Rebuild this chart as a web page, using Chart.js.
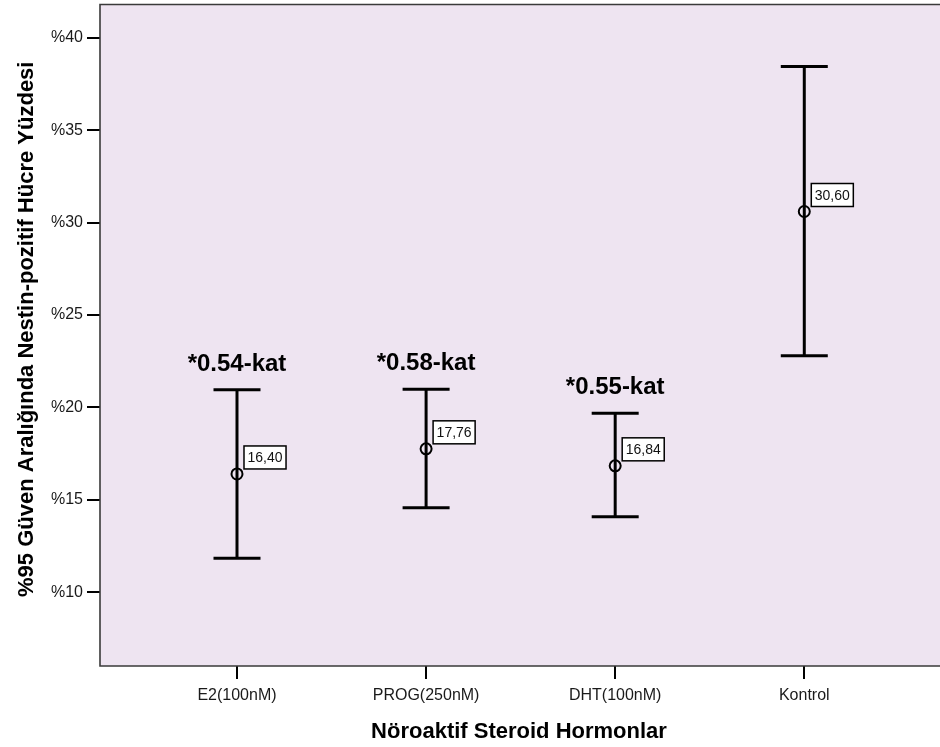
<!DOCTYPE html>
<html>
<head>
<meta charset="utf-8">
<script src="https://cdn.jsdelivr.net/npm/chart.js@4"></script>
<style>
  html, body { margin: 0; padding: 0; background: #fff; }
  #wrap { width: 940px; height: 747px; position: relative; }
</style>
</head>
<body>
<div id="wrap"><canvas id="c" width="940" height="747"></canvas></div>
<script>
// ---- data ----
const categories = ['E2(100nM)', 'PROG(250nM)', 'DHT(100nM)', 'Kontrol'];
const means  = [16.40, 17.76, 16.84, 30.60];
const upper  = [20.95, 20.98, 19.69, 38.45];
const lower  = [11.84, 14.57, 14.08, 22.79];
const foldLabels = ['*0.54-kat', '*0.58-kat', '*0.55-kat', null];
const yTicks = [10, 15, 20, 25, 30, 35, 40];
const xTitle = 'Nöroaktif Steroid Hormonlar';
const yTitle = '%95 Güven Aralığında Nestin-pozitif Hücre Yüzdesi';

const FONT = "'Liberation Sans', Arial, sans-serif";

const whiskerData = [];
categories.forEach((c, i) => {
  whiskerData.push({x: i, y: lower[i]}, {x: i, y: upper[i]}, {x: i, y: null});
});
const capData = [];
categories.forEach((c, i) => {
  capData.push({x: i, y: upper[i]}, {x: i, y: lower[i]});
});
const meanData = means.map((m, i) => ({x: i, y: m}));

function zeroPad(s) { s.paddingTop = 0; s.paddingBottom = 0; s.paddingLeft = 0; s.paddingRight = 0; }

const decor = {
  id: 'decor',
  beforeDraw(chart) {
    const {ctx, chartArea: a} = chart;
    ctx.save();
    ctx.fillStyle = '#EEE4F1';
    ctx.fillRect(a.left, a.top, a.right - a.left, a.bottom - a.top);
    ctx.restore();
  },
  afterDatasetsDraw(chart) {
    const {ctx, chartArea: a, scales: {x, y}} = chart;
    ctx.save();
    // frame (right edge lies outside the picture)
    ctx.strokeStyle = '#3a3a3a';
    ctx.lineWidth = 1.6;
    ctx.beginPath();
    ctx.moveTo(a.right + 2, a.top);
    ctx.lineTo(a.left, a.top);
    ctx.lineTo(a.left, a.bottom);
    ctx.lineTo(a.right + 2, a.bottom);
    ctx.stroke();

    // value boxes
    ctx.font = '14px ' + FONT;
    ctx.textBaseline = 'middle';
    ctx.textAlign = 'left';
    means.forEach((m, i) => {
      const px = x.getPixelForValue(i), py = y.getPixelForValue(m);
      const txt = m.toFixed(2).replace('.', ',');
      const w = ctx.measureText(txt).width + 7;
      const h = 23;
      const bx = px + 7, by = py - 5 - h;
      ctx.fillStyle = '#fff';
      ctx.fillRect(bx, by, w, h);
      ctx.strokeStyle = '#000';
      ctx.lineWidth = 1.5;
      ctx.strokeRect(bx, by, w, h);
      ctx.fillStyle = '#111';
      ctx.fillText(txt, bx + 3.5, by + h / 2 + 1);
    });

    // fold-change annotations
    ctx.font = 'bold 24px ' + FONT;
    ctx.textAlign = 'center';
    ctx.textBaseline = 'alphabetic';
    ctx.fillStyle = '#000';
    foldLabels.forEach((t, i) => {
      if (!t) return;
      const px = x.getPixelForValue(i), py = y.getPixelForValue(upper[i]);
      ctx.fillText(t, px, py - 19);
    });

    // axis titles
    ctx.font = 'bold 22px ' + FONT;
    ctx.fillStyle = '#000';
    ctx.textAlign = 'center';
    ctx.textBaseline = 'alphabetic';
    ctx.fillText(xTitle, (a.left + a.right) / 2 - 1, 738);
    ctx.translate(33, (a.top + a.bottom) / 2 - 6);
    ctx.rotate(-Math.PI / 2);
    ctx.fillText(yTitle, 0, 0);
    ctx.restore();
  }
};

new Chart(document.getElementById('c'), {
  type: 'scatter',
  data: {
    datasets: [
      {
        type: 'line',
        data: whiskerData,
        borderColor: '#000',
        borderWidth: 3,
        pointRadius: 0,
        spanGaps: false,
        fill: false
      },
      {
        data: capData,
        pointStyle: 'line',
        pointRadius: 23.5,
        borderColor: '#000',
        borderWidth: 3,
        pointHoverRadius: 23.5
      },
      {
        data: meanData,
        pointStyle: 'circle',
        pointRadius: 5.5,
        borderColor: '#000',
        backgroundColor: 'rgba(0,0,0,0)',
        borderWidth: 2
      }
    ]
  },
  options: {
    responsive: false,
    animation: false,
    devicePixelRatio: 1,
    layout: { autoPadding: false, padding: { top: 4.5, right: 0, left: 0, bottom: 0 } },
    plugins: { legend: { display: false }, tooltip: { enabled: false } },
    scales: {
      x: {
        type: 'linear',
        min: -0.7245,
        max: 3.7177,
        afterFit(s) { s.height = 81; zeroPad(s); },
        afterBuildTicks(s) { s.ticks = categories.map((c, i) => ({value: i})); },
        ticks: {
          callback: (v) => categories[v],
          font: { family: FONT, size: 16 },
          color: '#1a1a1a',
          padding: 7,
          maxRotation: 0,
          autoSkip: false
        },
        grid: { drawOnChartArea: false, drawTicks: true, tickLength: 13, color: '#000', lineWidth: 2 },
        border: { display: false }
      },
      y: {
        min: 6.01,
        max: 41.8,
        afterFit(s) { s.width = 100; zeroPad(s); },
        afterBuildTicks(s) { s.ticks = yTicks.map(v => ({value: v})); },
        ticks: {
          callback: (v) => '%' + v,
          font: { family: FONT, size: 16 },
          color: '#1a1a1a',
          padding: 4
        },
        grid: { drawOnChartArea: false, drawTicks: true, tickLength: 13, color: '#000', lineWidth: 2 },
        border: { display: false }
      }
    }
  },
  plugins: [decor]
});
</script>
</body>
</html>
